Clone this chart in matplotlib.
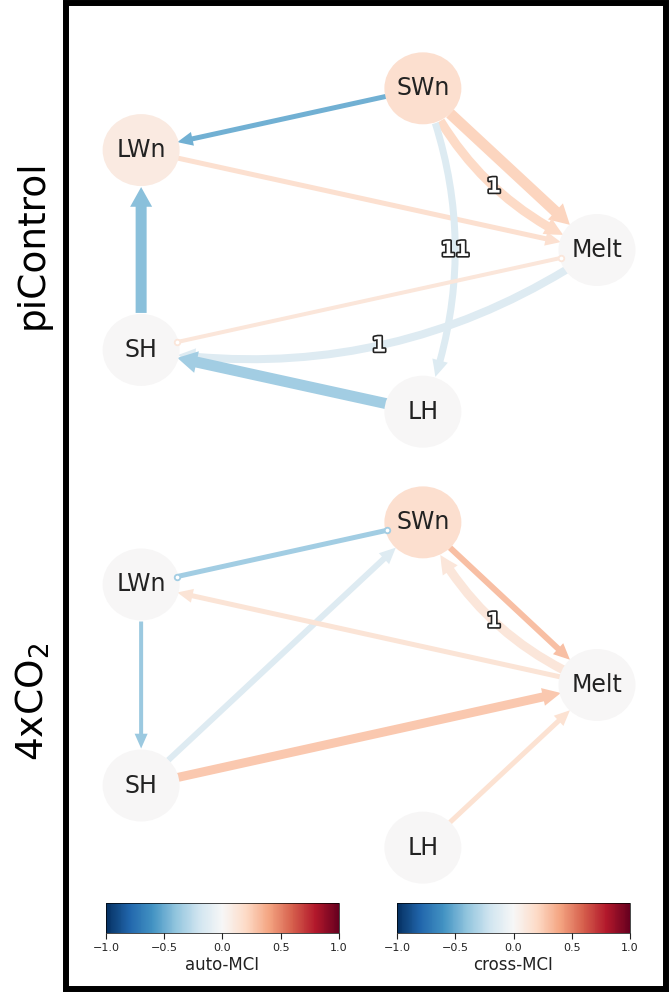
import numpy as np
import matplotlib
matplotlib.use("Agg")
import matplotlib.pyplot as plt
import matplotlib.patheffects as pe
from matplotlib.patches import FancyArrowPatch, Rectangle
from matplotlib.path import Path
from matplotlib.markers import MarkerStyle
from matplotlib.transforms import Affine2D
from matplotlib.cm import ScalarMappable
from matplotlib.colors import Normalize

DPI = 100
W, H = 670, 993

# variables on a circular layout (angle in degrees)
var_names = ["Melt", "SWn", "LWn", "SH", "LH"]
var_angles = [0, 72, 144, 216, 288]

# auto-MCI of each variable
node_val_pi = [0.0, 0.17, 0.09, 0.0, 0.0]
node_val_co2 = [0.0, 0.17, 0.0, 0.0, 0.0]

# cross links for piControl
pi_src = ["SWn", "LWn", "SWn", "SWn", "SWn", "Melt", "Melt", "SH", "LH"]
pi_tgt = ["LWn", "Melt", "Melt", "Melt", "LH", "SH", "SH", "LWn", "SH"]
pi_val = [-0.48, 0.16, 0.22, 0.2, -0.14, -0.13, 0.12, -0.42, -0.35]
pi_width = [5, 5, 11, 9, 7, 8, 4, 11, 11]
pi_lag = ["", "", "", "1", "11", "1", "", "", ""]
pi_type = ["-->", "-->", "-->", "-->", "-->", "-->", "o-o", "-->", "-->"]
pi_rad = [0, 0, 0, 0.2, -0.2, -0.2, 0, 0, 0]

# cross links for 4xCO2
co2_src = ["LWn", "SH", "SWn", "Melt", "Melt", "LWn", "SH", "LH"]
co2_tgt = ["SWn", "SWn", "Melt", "SWn", "LWn", "SH", "Melt", "Melt"]
co2_val = [-0.35, -0.13, 0.3, 0.12, 0.14, -0.37, 0.27, 0.15]
co2_width = [5, 6, 6, 9, 5, 4, 9, 5]
co2_lag = ["", "", "", "1", "", "", "", ""]
co2_type = ["o-o", "-->", "-->", "-->", "-->", "-->", "-->", "-->"]
co2_rad = [0, 0, 0, -0.2, 0, 0, 0, 0]

cmap = plt.get_cmap("RdBu_r")
norm = Normalize(vmin=-1, vmax=1)

node_r_px = 37
node_r_pt = node_r_px * 72 / DPI
node_w_pt = 77 * 72 / DPI
# slightly wide ellipse for the node discs
node_marker = MarkerStyle(Path.unit_circle().transformed(Affine2D().scale(1.07, 1.0)))


def draw_graph(ax, node_val, src, tgt, val, width, lag, ltype, rad):
    ax.axis("off")
    pos = {n: np.array([np.cos(np.radians(a)), np.sin(np.radians(a))])
           for n, a in zip(var_names, var_angles)}
    to_disp = ax.transData.transform
    to_data = ax.transData.inverted().transform

    for n, v in zip(var_names, node_val):
        ax.scatter(*pos[n], s=node_w_pt ** 2, marker=node_marker,
                   color=cmap(norm(v)), edgecolors="none", zorder=3,
                   clip_on=False)
        ax.text(*pos[n], n, fontsize=17, ha="center", va="center",
                color="#222222", zorder=4)

    for s, t, v, w, lab, kind, r in zip(src, tgt, val, width, lag, ltype, rad):
        col = cmap(norm(v))
        if kind == "o-o":
            arr = FancyArrowPatch(pos[s], pos[t], arrowstyle="-",
                                  lw=w * 72 / DPI, color=col,
                                  shrinkA=node_r_pt, shrinkB=node_r_pt,
                                  connectionstyle=f"arc3,rad={r}", zorder=2)
            ax.add_patch(arr)
            p0, p1 = to_disp(pos[s]), to_disp(pos[t])
            u = (p1 - p0) / np.linalg.norm(p1 - p0)
            for e in (p0 + u * node_r_px, p1 - u * node_r_px):
                ax.plot(*to_data(e), "o", ms=4, mfc="white", mec=col,
                        mew=1.3, zorder=5)
        else:
            hw = max(2 * w, w + 9)
            hl = 12 + 0.7 * w
            style = f"simple,head_length={hl},head_width={hw},tail_width={w}"
            arr = FancyArrowPatch(pos[s], pos[t], arrowstyle=style,
                                  mutation_scale=72 / DPI, lw=0, color=col,
                                  shrinkA=node_r_pt, shrinkB=node_r_pt,
                                  connectionstyle=f"arc3,rad={r}", zorder=2)
            ax.add_patch(arr)
        if lab:
            p0, p1 = to_disp(pos[s]), to_disp(pos[t])
            d = p1 - p0
            c = (p0 + p1) / 2 + r * np.array([d[1], -d[0]])
            m = to_data(0.25 * p0 + 0.5 * c + 0.25 * p1)
            ax.text(*m, lab, fontsize=15, fontweight="bold", color="white",
                    ha="center", va="center", zorder=6,
                    path_effects=[pe.Stroke(linewidth=2.4, foreground="#222222"),
                                  pe.Normal()])


fig = plt.figure(figsize=(W / DPI, H / DPI), dpi=DPI)

# x: px = 345 + 252 x ; y: py = cy - 170 y
xlim = ((63 - 345) / 252, (667 - 345) / 252)

ax1 = fig.add_axes([63 / W, 1 - 440 / H, 604 / W, 440 / H])
ax1.set_xlim(*xlim)
ax1.set_ylim((250 - 440) / 170, (250 - 0) / 170)
draw_graph(ax1, node_val_pi, pi_src, pi_tgt, pi_val, pi_width, pi_lag,
           pi_type, pi_rad)

ax2 = fig.add_axes([63 / W, 1 - 880 / H, 604 / W, 440 / H])
ax2.set_xlim(*xlim)
ax2.set_ylim((685 - 880) / 171, (685 - 440) / 171)
draw_graph(ax2, node_val_co2, co2_src, co2_tgt, co2_val, co2_width, co2_lag,
           co2_type, co2_rad)

fig.text(33 / W, 1 - 244 / H, "piControl", rotation=90, fontsize=27,
         ha="center", va="center")
fig.text(33 / W, 1 - 702 / H, "4xCO$_2$", rotation=90, fontsize=27,
         ha="center", va="center")

for x0, label in [(106, "auto-MCI"), (397, "cross-MCI")]:
    cax = fig.add_axes([x0 / W, 1 - 933 / H, 233 / W, 30 / H])
    cb = fig.colorbar(ScalarMappable(norm=norm, cmap=cmap), cax=cax,
                      orientation="horizontal", ticks=[-1, -0.5, 0, 0.5, 1])
    cb.set_label(label, fontsize=12, color="#222222", labelpad=2)
    cb.ax.tick_params(labelsize=8, colors="#222222", length=4)
    cb.outline.set_linewidth(0.5)

fig.add_artist(Rectangle((66 / W, 1 - 989 / H), 600 / W, 986.5 / H,
                         transform=fig.transFigure, fill=False, lw=4.3,
                         ec="black"))

fig.savefig("out.png", dpi=DPI)
